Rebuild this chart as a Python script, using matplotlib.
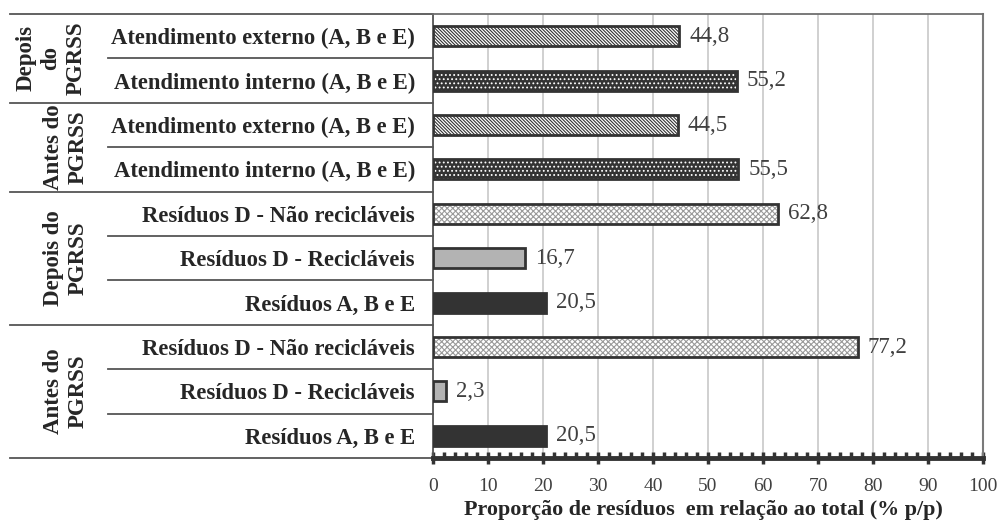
import matplotlib.pyplot as plt
from matplotlib.ticker import MultipleLocator

plt.rcParams['font.family'] = ['Liberation Serif', 'DejaVu Serif']
plt.rcParams['hatch.linewidth'] = 0.8

# rows from bottom to top
categories = ['Resíduos A, B e E', 'Resíduos D - Recicláveis', 'Resíduos D - Não recicláveis',
              'Resíduos A, B e E', 'Resíduos D - Recicláveis', 'Resíduos D - Não recicláveis',
              'Atendimento interno (A, B e E)', 'Atendimento externo (A, B e E)',
              'Atendimento interno (A, B e E)', 'Atendimento externo (A, B e E)']
values = [20.5, 2.3, 77.2, 20.5, 16.7, 62.8, 55.5, 44.5, 55.2, 44.8]
kinds = ['abe', 'rec', 'nrec', 'abe', 'rec', 'nrec', 'int', 'ext', 'int', 'ext']

groups = ['Antes do\nPGRSS', 'Depois do\nPGRSS', 'Antes do\nPGRSS', 'Depois\ndo\nPGRSS']
group_rows = [(0, 2), (3, 5), (6, 7), (8, 9)]

xticks = list(range(0, 101, 10))

dark = '#333333'
# face colour, hatch, hatch colour
styles = {
    'abe': (dark, None, None),
    'rec': ('#b3b3b3', None, None),
    'nrec': ('white', 'xxxxxx', '#9a9a9a'),
    'int': (dark, '....', 'white'),
    'ext': ('white', '\\' * 10, dark),
}

fig = plt.figure(figsize=(10, 5.29), dpi=100)
ax = fig.add_axes([0.433, 0.1342, 0.55, 0.8393])

h = 0.45
for i, (v, k) in enumerate(zip(values, kinds)):
    face, hatch, hcol = styles[k]
    if hatch:
        ax.barh(i, v, height=h, color=face, edgecolor=hcol, hatch=hatch, linewidth=0, zorder=3)
        ax.barh(i, v, height=h, facecolor='none', edgecolor=dark, linewidth=2, zorder=4)
    else:
        ax.barh(i, v, height=h, color=face, edgecolor=dark, linewidth=2, zorder=3)
    ax.text(v + 1.8, i, f'{v:.1f}'.replace('.', ','), va='center', ha='left',
            fontsize=16.5, color='#404040')

ax.set_xlim(0, 100)
ax.set_ylim(-0.5, 9.5)
ax.set_xticks(xticks)
ax.set_xticklabels([str(t) for t in xticks], fontsize=14, color='#404040')
ax.xaxis.set_minor_locator(MultipleLocator(2))
ax.tick_params(axis='x', which='major', direction='inout', length=9, width=2.5, color=dark, pad=10)
ax.tick_params(axis='x', which='minor', direction='in', length=4, width=2.5, color=dark)
ax.grid(axis='x', color='#c8c8c8', linewidth=1.2, zorder=0)
ax.set_axisbelow(True)

ax.set_yticks(range(len(categories)))
ax.set_yticklabels(categories, fontsize=16.3, fontweight='bold', color='#262626')
ax.tick_params(axis='y', length=0, pad=13)

ax.spines['bottom'].set_linewidth(3.5)
ax.spines['bottom'].set_color(dark)
ax.spines['left'].set_color('#555555')
ax.spines['left'].set_linewidth(1.3)
ax.spines['top'].set_color('#6e6e6e')
ax.spines['top'].set_linewidth(1.3)
ax.spines['right'].set_color('#7a7a7a')
ax.spines['right'].set_linewidth(1.5)

# table lines on the left
tr = ax.get_yaxis_transform()
x_outer = -0.769
x_inner = -0.591
for y in [9.5, 7.5, 5.5, 2.5, -0.5]:
    ax.plot([x_outer, 0], [y, y], transform=tr, color='#555555', lw=1.3, clip_on=False)
for y in [8.5, 6.5, 4.5, 3.5, 1.5, 0.5]:
    ax.plot([x_inner, 0], [y, y], transform=tr, color='#555555', lw=1.3, clip_on=False)

for g, (a, b) in zip(groups, group_rows):
    xc = -0.6945 if g.count('\n') == 2 else -0.668
    ax.text(xc, (a + b) / 2, g, transform=tr, rotation=90, ha='center', va='center',
            fontsize=16.5, fontweight='bold', color='#262626', linespacing=1.25)

fig.text(0.703, 0.036, 'Proporção de resíduos  em relação ao total (% p/p)',
         ha='center', va='center', fontsize=15.9, fontweight='bold', color='#262626')

fig.savefig('out.png', dpi=100)
